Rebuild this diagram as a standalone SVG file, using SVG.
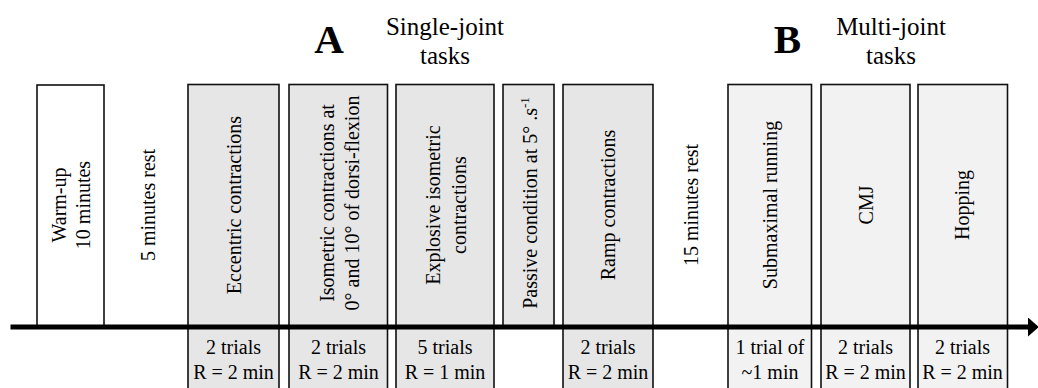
<svg xmlns="http://www.w3.org/2000/svg" width="1038" height="388" viewBox="0 0 1038 388" font-family="'Liberation Serif', 'Times New Roman', Times, 'DejaVu Serif', serif">
  <style>
    text { font-family: "Liberation Serif", "Times New Roman", Times, "DejaVu Serif", serif; fill: #000; }
    .lbl { font-size: 20px; text-anchor: middle; }
    .ttl { font-size: 25px; text-anchor: middle; }
    .big { font-size: 41px; font-weight: bold; text-anchor: middle; }
    .box { stroke: #111; stroke-width: 1.6; }
    .white { fill: #ffffff; }
    .single { fill: #e6e6e6; }
    .multi { fill: #f2f2f2; }
    .timeline { stroke: #000; stroke-width: 5; fill: none; }
  </style>
  <defs>
    <marker id="arrowhead" markerUnits="userSpaceOnUse" markerWidth="12" markerHeight="20" refX="0" refY="9.5" orient="auto">
      <path d="M0,0 L11,9.5 L0,19 Z" fill="#000"/>
    </marker>
  </defs>

  <!-- section headings -->
  <g id="heading-a">
    <text class="big" x="329" y="53">A</text>
    <text class="ttl" x="445" y="35">Single-joint</text>
    <text class="ttl" x="445" y="63.5">tasks</text>
  </g>
  <g id="heading-b">
    <text class="big" x="787.5" y="53">B</text>
    <text class="ttl" x="891" y="35">Multi-joint</text>
    <text class="ttl" x="891" y="63.5">tasks</text>
  </g>

  <!-- protocol steps -->
  <g id="warmup">
    <rect class="box white" x="37" y="85" width="67" height="242"/>
    <text class="lbl" transform="translate(70.5,205) rotate(-90)"><tspan x="0" y="-5">Warm-up</tspan><tspan x="0" y="19">10 minutes</tspan></text>
  </g>
  <g id="rest-5">
    <text class="lbl" transform="translate(147.5,205) rotate(-90)" y="7">5 minutes rest</text>
  </g>
  <g id="eccentric">
    <rect class="box single" x="188" y="84.5" width="91" height="310"/>
    <text class="lbl" transform="translate(233.5,205) rotate(-90)" y="7.5">Eccentric contractions</text>
    <text class="lbl" x="233.5" y="353.5">2 trials</text>
    <text class="lbl" x="233.5" y="378.5">R = 2 min</text>
  </g>
  <g id="isometric">
    <rect class="box single" x="289" y="84.5" width="98.5" height="310"/>
    <text class="lbl" transform="translate(338.5,203) rotate(-90)"><tspan x="0" y="-5">Isometric contractions at</tspan><tspan x="0" y="20">0° and 10° of dorsi-flexion</tspan></text>
    <text class="lbl" x="338.5" y="353.5">2 trials</text>
    <text class="lbl" x="338.5" y="378.5">R = 2 min</text>
  </g>
  <g id="explosive">
    <rect class="box single" x="396" y="84.5" width="98" height="310"/>
    <text class="lbl" transform="translate(445,205) rotate(-90)"><tspan x="0" y="-5">Explosive isometric</tspan><tspan x="0" y="21">contractions</tspan></text>
    <text class="lbl" x="445" y="353.5">5 trials</text>
    <text class="lbl" x="445" y="378.5">R = 1 min</text>
  </g>
  <g id="passive">
    <rect class="box single" x="503" y="84.5" width="51" height="242.5"/>
    <text class="lbl" transform="translate(528.5,203) rotate(-90)" y="8">Passive condition at 5° .s<tspan font-size="13" dy="-8">-1</tspan></text>
  </g>
  <g id="ramp">
    <rect class="box single" x="563" y="84.5" width="90" height="310"/>
    <text class="lbl" transform="translate(608,205) rotate(-90)" y="7">Ramp contractions</text>
    <text class="lbl" x="608" y="353.5">2 trials</text>
    <text class="lbl" x="608" y="378.5">R = 2 min</text>
  </g>
  <g id="rest-15">
    <text class="lbl" transform="translate(690.5,205) rotate(-90)" y="7.5">15 minutes rest</text>
  </g>
  <g id="running">
    <rect class="box multi" x="728" y="84.5" width="83.5" height="310"/>
    <text class="lbl" transform="translate(770,205) rotate(-90)" y="7">Submaximal running</text>
    <text class="lbl" x="770" y="353.5">1 trial of</text>
    <text class="lbl" x="770" y="378.5">~1 min</text>
  </g>
  <g id="cmj">
    <rect class="box multi" x="821" y="84.5" width="89" height="310"/>
    <text class="lbl" transform="translate(865.5,205) rotate(-90)" y="7">CMJ</text>
    <text class="lbl" x="865.5" y="353.5">2 trials</text>
    <text class="lbl" x="865.5" y="378.5">R = 2 min</text>
  </g>
  <g id="hopping">
    <rect class="box multi" x="918" y="84.5" width="89.5" height="310"/>
    <text class="lbl" transform="translate(962.5,205) rotate(-90)" y="6.5">Hopping</text>
    <text class="lbl" x="962.5" y="353.5">2 trials</text>
    <text class="lbl" x="962.5" y="378.5">R = 2 min</text>
  </g>

  <!-- time axis -->
  <g id="connectors">
    <line class="timeline" x1="10.5" y1="327" x2="1028" y2="327" marker-end="url(#arrowhead)"/>
  </g>
</svg>
